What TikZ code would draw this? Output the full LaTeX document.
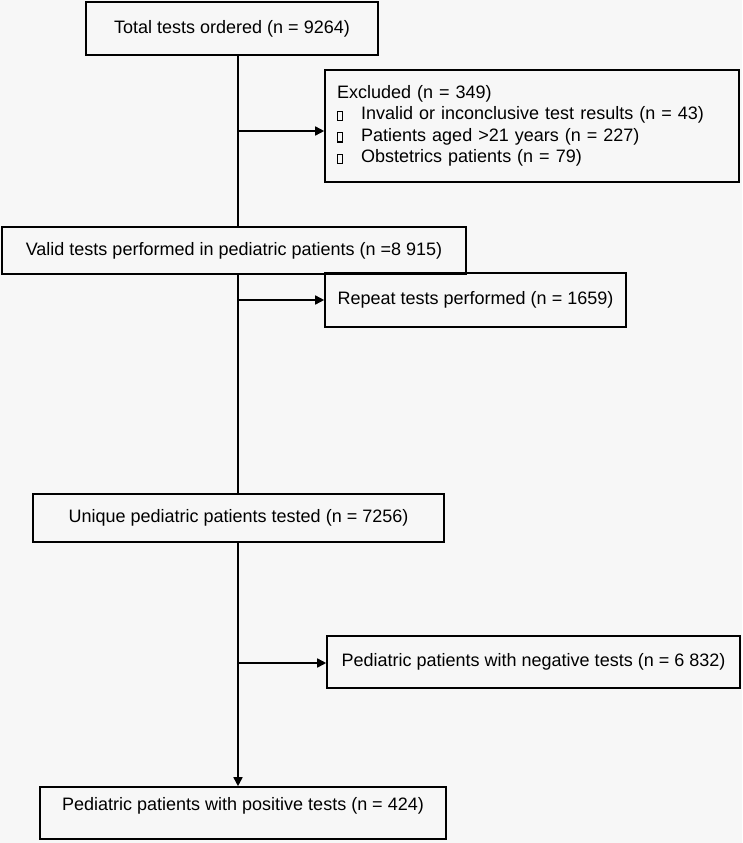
\documentclass[tikz,border=0pt]{standalone}
\usepackage{fontspec}
\setmainfont{Liberation Sans}
\usetikzlibrary{arrows.meta}
\definecolor{bgpaper}{RGB}{247,247,247}
\newcommand{\sqbullet}{{\fboxsep=0pt\fboxrule=1.1pt\fbox{\rule{0pt}{8pt}\hspace{4pt}}}\hspace{18pt}}

\begin{document}
\begin{tikzpicture}
            [x=1pt,y=-1pt,line width=1.6pt,
             every node/.style={draw,rectangle,inner sep=0pt,font=\fontsize{18}{21.5}\selectfont},
             flowto/.style={-{Triangle[length=9pt,width=9pt]}}]
            \fill[bgpaper] (0,0) rectangle (742,843);
            \useasboundingbox (0,0) rectangle (742,843);
            \node (tot) [minimum width=292pt,minimum height=53pt] at (232,28.5) {Total tests ordered (n = 9264)};
            \node (excl) [minimum width=414pt,minimum height=112pt,text width=390pt,align=left] at (532,126)
                {Excluded (n = 349)\\
                 \sqbullet Invalid or inconclusive test results (n = 43)\\
                 \sqbullet Patients aged >21 years (n = 227)\\
                 \sqbullet Obstetrics patients (n = 79)};
            \node (valid) [minimum width=464pt,minimum height=47pt] at (234,250.5) {Valid tests performed in pediatric patients (n =8 915)};
            \node (rep) [minimum width=301pt,minimum height=54pt] at (475.5,300) {Repeat tests performed (n = 1659)};
            \node (uniq) [minimum width=411pt,minimum height=48pt] at (238.5,518) {Unique pediatric patients tested (n = 7256)};
            \node (neg) [minimum width=413pt,minimum height=52pt] at (533.5,662) {Pediatric patients with negative tests (n = 6 832)};
            \node (pos) [minimum width=406pt,minimum height=52pt,text depth=19pt] at (243,813) {Pediatric patients with positive tests (n = 424)};
            % the main line
            \coordinate (b1) at (238,131);
            \coordinate (b2) at (238,300);
            \coordinate (b3) at (238,663);
            \draw (tot.south -| b1) -- (valid.north -| b1);
            \draw (valid.south -| b1) -- (uniq.north -| b1);
            \draw[flowto] (uniq.south -| b1) -- (pos.north -| b1);
            % side branches
            \draw[flowto] (b1) -- (b1 -| excl.west);
            \draw[flowto] (b2) -- (b2 -| rep.west);
            \draw[flowto] (b3) -- (b3 -| neg.west);
        \end{tikzpicture}
\end{document}
